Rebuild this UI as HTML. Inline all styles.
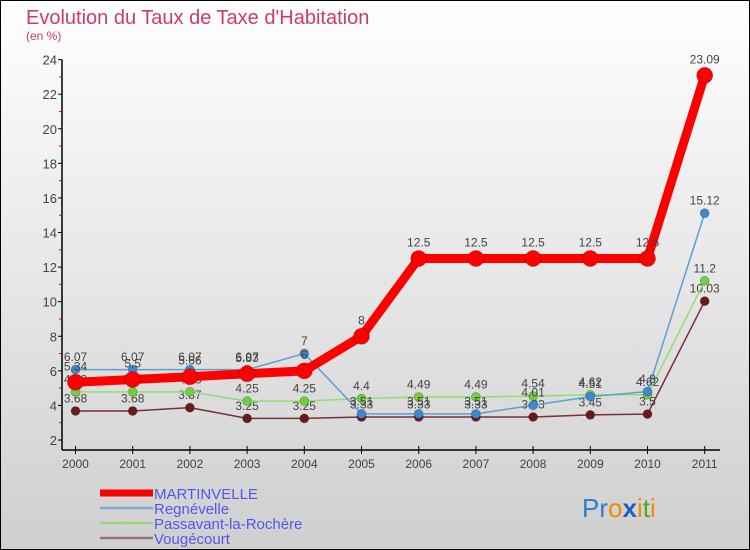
<!DOCTYPE html>
<html><head><meta charset="utf-8"><style>
body{margin:0;width:750px;height:550px;overflow:hidden;font-family:"Liberation Sans",sans-serif}
svg{display:block}
</style></head><body>
<svg id="c" width="750" height="550" xmlns="http://www.w3.org/2000/svg">
<defs><linearGradient id="bg" x1="0" y1="0" x2="0" y2="1"><stop offset="0" stop-color="#ffffff"/><stop offset="1" stop-color="#cfcfcf"/></linearGradient></defs>
<rect x="0.5" y="0.5" width="749" height="549" fill="url(#bg)" stroke="#000"/>
<text x="26" y="24" font-size="20" fill="#d03a68">Evolution du Taux de Taxe d'Habitation</text>
<text x="26" y="40" font-size="12" fill="#d03a68">(en %)</text>
<g id="axes"></g><g id="series"></g><g id="legend"></g>
<text x="582" y="517" font-size="26" font-family="Liberation Sans, sans-serif"><tspan fill="#2a7fd0">Pr</tspan><tspan fill="#f08a00">o</tspan><tspan fill="#1a5fc0" font-weight="bold">x</tspan><tspan fill="#f08a00">i</tspan><tspan fill="#4aaa20">t</tspan><tspan fill="#f08a00">i</tspan></text>
</svg>
<script>
const years=["2000","2001","2002","2003","2004","2005","2006","2007","2008","2009","2010","2011"];
const yTicks=[2,4,6,8,10,12,14,16,18,20,22,24];
const martinvelle=[5.34,5.5,5.66,5.83,6,8,12.5,12.5,12.5,12.5,12.5,23.09];
const regnevelle=[6.07,6.07,6.07,6.07,7,3.51,3.51,3.51,4.01,4.51,4.8,15.12];
const passavant=[4.78,4.78,4.78,4.25,4.25,4.4,4.49,4.49,4.54,4.62,4.62,11.2];
const vougecourt=[3.68,3.68,3.87,3.25,3.25,3.33,3.33,3.33,3.33,3.45,3.5,10.03];
const NS="http://www.w3.org/2000/svg";
const x=i=>75.5+i*57.2;
const y=v=>440-(v-2)*17.29;
function mk(t,a,p){const e=document.createElementNS(NS,t);for(const k in a)e.setAttribute(k,a[k]);p.appendChild(e);return e;}
const ax=document.getElementById('axes');
let e=mk('line',{x1:62,y1:y(24),x2:62,y2:450,stroke:'#000','stroke-width':1.5},ax);

e=mk('line',{x1:62,y1:450,x2:720,y2:450,stroke:'#000','stroke-width':1.5},ax);

yTicks.forEach(v=>{
  mk('line',{x1:58,y1:y(v),x2:62,y2:y(v),stroke:'#000'},ax);
  if(v<24)mk('line',{x1:59,y1:y(v+1),x2:62,y2:y(v+1),stroke:'#e00'},ax);
  e=mk('text',{x:57,y:y(v)+5,'font-size':13,fill:'#444','text-anchor':'end'},ax);
  
  e.textContent=v;
});
years.forEach((yr,i)=>{
  mk('line',{x1:x(i),y1:446,x2:x(i),y2:454,stroke:'#000'},ax);
  e=mk('text',{x:x(i),y:468,'font-size':12,fill:'#444','text-anchor':'middle'},ax);
  
  e.textContent=yr;
});
const sg=document.getElementById('series');
function draw(vals,color,mcol,w,r,name){
  const g=mk('g',{},sg);
  
  let l=mk('polyline',{points:vals.map((v,i)=>x(i)+','+y(v)).join(' '),fill:'none',stroke:color,'stroke-width':w,'stroke-linejoin':'round'},g);
  
  vals.forEach((v,i)=>{
    let c=mk('circle',{cx:x(i),cy:y(v),r:r,fill:mcol,stroke:'rgba(0,0,0,0.2)'},g);
    
    let t=mk('text',{x:x(i),y:y(v)-r-4,'font-size':12,fill:'#444','text-anchor':'middle'},g);
    
    t.textContent=v;
  });
}
draw(vougecourt,'#7a3030','#6a1a1a',1.5,4.5,'vougecourt');
draw(passavant,'#90e070','#70d040',1.5,4.5,'passavant');
draw(regnevelle,'#5aa0d0','#3a8ad0',1.5,4.5,'regnevelle');
draw(martinvelle,'#f00','#f00',9,8,'martinvelle');
const lg=document.getElementById('legend');
const names=["MARTINVELLE","Regnévelle","Passavant-la-Rochère","Vougécourt"];
const cols=['#f00','#7aaad0','#9ad880','#9a7070'];
const ws=[7,2.5,2.5,2.5];
names.forEach((n,i)=>{
  const yy=493+i*15;
  let l=mk('line',{x1:100,y1:yy,x2:153,y2:yy,stroke:cols[i],'stroke-width':ws[i]},lg);
  
  let t=mk('text',{x:154,y:yy+6,'font-size':15,fill:'#5555ee','font-family':'Liberation Sans, sans-serif'},lg);
  
  t.textContent=n;
});
</script>
</body></html>
